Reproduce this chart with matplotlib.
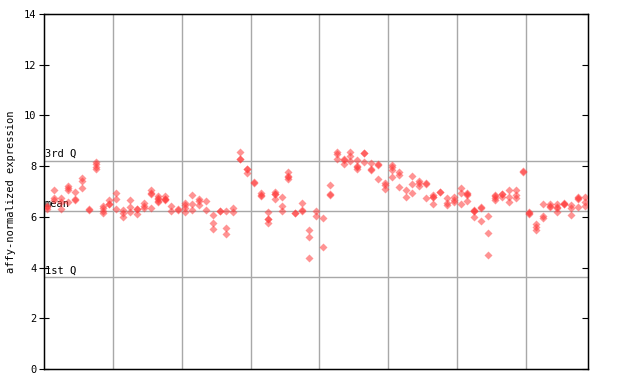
import matplotlib
matplotlib.use("Agg")
import matplotlib.pyplot as plt

# expression values per sample column (replicates)
columns = [
    [6.40, 6.42, 6.30], [7.05, 6.75, 6.65], [6.75, 6.57, 6.30], [7.23, 7.14, 7.05, 6.57],
    [7.00, 6.68, 6.70], [7.52, 7.43, 7.14], [6.28, 6.30], [8.17, 8.07, 7.98, 7.87],
    [6.43, 6.34, 6.24, 6.15], [6.66, 6.50, 6.52],
    [6.96, 6.69, 6.30], [6.26, 6.17, 5.98], [6.65, 6.37, 6.19], [6.30, 6.32, 6.10],
    [6.53, 6.44, 6.35], [7.06, 6.96, 6.89, 6.33], [6.81, 6.71, 6.73, 6.62, 6.60],
    [6.81, 6.71, 6.69, 6.65], [6.43, 6.24], [6.28, 6.30],
    [6.55, 6.45, 6.36, 6.18], [6.85, 6.49, 6.26], [6.69, 6.61, 6.45], [6.61, 6.26],
    [6.06, 5.74, 5.54], [6.23, 6.25], [6.23, 5.58, 5.31], [6.33, 6.18],
    [8.54, 8.27, 8.29], [7.87, 7.89, 7.74],
    [7.35, 7.37], [6.94, 6.83, 6.85], [6.19, 5.90, 5.92, 5.74], [6.98, 6.90, 6.92, 6.69],
    [6.77, 6.41, 6.23], [7.75, 7.58, 7.60, 7.49], [6.15, 6.17], [6.53, 6.24, 6.26],
    [5.47, 5.19, 4.37], [6.23, 6.02],
    [5.94, 4.80], [7.24, 6.87, 6.89], [8.57, 8.48, 8.29], [8.25, 8.27, 8.07],
    [8.57, 8.39, 8.20], [8.24, 7.98, 8.00, 7.89], [8.50, 8.52, 8.18], [8.12, 7.85, 7.87],
    [8.06, 8.08, 7.48], [7.33, 7.24, 7.09],
    [8.04, 7.95, 7.86, 7.56], [7.75, 7.66, 7.16], [7.05, 6.77], [7.60, 7.28, 6.93],
    [7.41, 7.32, 7.23], [7.30, 7.32, 6.73], [6.86, 6.77, 6.79, 6.49], [6.98, 7.00],
    [6.73, 6.55, 6.45], [6.77, 6.68, 6.59],
    [7.15, 6.94, 6.50], [6.93, 6.87, 6.89, 6.62], [6.28, 6.22, 6.24, 5.98], [6.35, 6.37, 5.82],
    [6.02, 5.38, 4.50], [6.83, 6.85, 6.74, 6.67], [6.89, 6.91, 6.77], [7.06, 6.78, 6.60],
    [7.06, 6.86, 6.74], [7.80, 7.75],
    [6.20, 6.13, 6.15], [5.72, 5.59, 5.48], [6.50, 6.02, 5.94], [6.52, 6.40, 6.42],
    [6.52, 6.35, 6.37, 6.18], [6.52, 6.54, 6.50], [6.45, 6.36, 6.06], [6.80, 6.72, 6.74, 6.37],
    [6.79, 6.58, 6.42],
]
group_sizes = [10, 10, 10, 10, 10, 10, 10, 9]
q3_value = 8.21
mean_value = 6.23
q1_value = 3.61
y_ticks = [0, 2, 4, 6, 8, 10, 12, 14]

fig = plt.figure(figsize=(6.4, 3.84), dpi=100)
ax = fig.add_axes([44 / 640, 15 / 384, 544 / 640, 355 / 384])

n = len(columns)
ax.set_xlim(-0.5, n - 0.5)
ax.set_ylim(0, 14)

grid_c = "#a8a8a8"
pos = -0.5
for s in group_sizes[:-1]:
    pos += s
    ax.axvline(pos, color=grid_c, lw=1.0, zorder=1)

for val, lab in [(q3_value, "3rd Q"), (mean_value, "mean"), (q1_value, "1st Q")]:
    ax.axhline(val, color=grid_c, lw=1.0, zorder=1)
    ax.text(-0.4, val + 0.08, lab, fontsize=7.5, family="DejaVu Sans Mono",
            ha="left", va="bottom", zorder=2)

xs, ys = [], []
for i, col in enumerate(columns):
    for v in col:
        xs.append(i)
        ys.append(v)
ax.plot(xs, ys, linestyle="none", marker="D", markersize=3.8,
        markerfacecolor="#ff3b3b", markeredgecolor="none", alpha=0.55, zorder=3)

ax.set_xticks([])
ax.set_yticks(y_ticks)
ax.set_yticklabels([str(t) for t in y_ticks], family="DejaVu Sans Mono", fontsize=7.5)
ax.tick_params(axis="y", direction="inout", length=7, width=0.8, pad=2)
for sp in ax.spines.values():
    sp.set_linewidth(1.0)
ax.set_ylabel("affy-normalized expression", family="DejaVu Sans Mono", fontsize=7.5,
              labelpad=6)

ax2 = ax.twinx()
ax2.set_ylim(0, 14)
ax2.set_yticks(y_ticks)
ax2.tick_params(axis="y", direction="in", length=4, width=0.8, labelright=False)

fig.savefig("out.png", dpi=100)
